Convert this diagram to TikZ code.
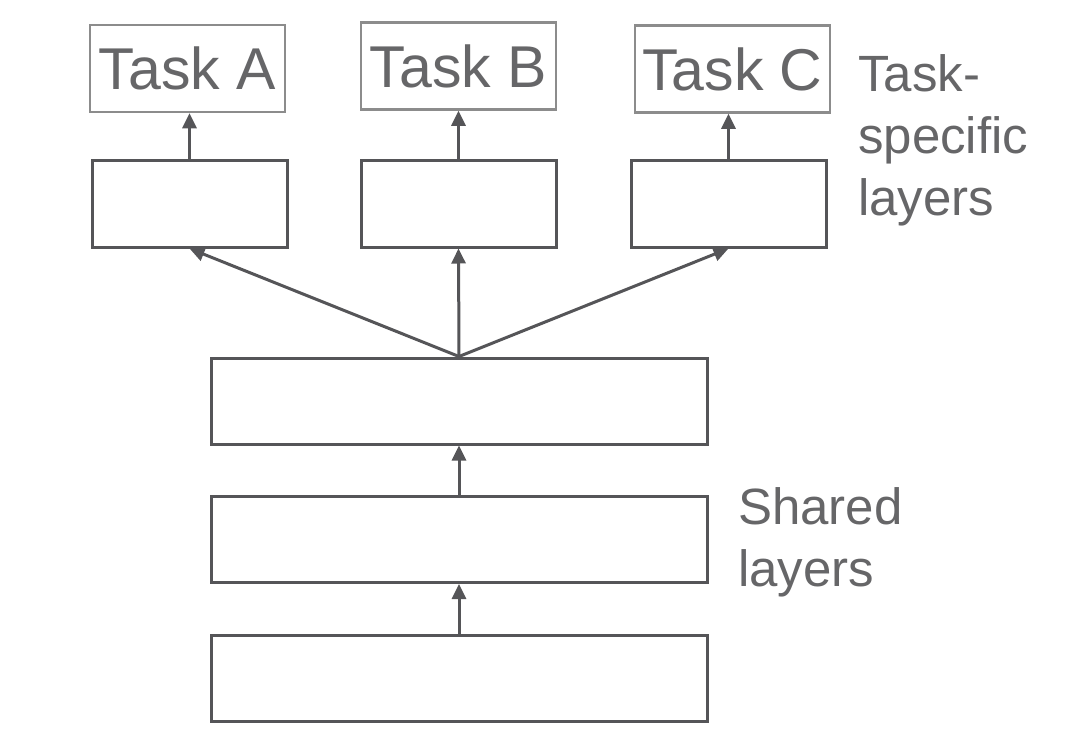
\documentclass[tikz,border=0pt]{standalone}
\usepackage{fontspec}
\setmainfont{Liberation Sans}
\usetikzlibrary{arrows.meta}
\definecolor{edge}{HTML}{555558}
\definecolor{light}{HTML}{8C8C8C}
\definecolor{txt}{HTML}{666668}
\begin{document}
\begin{tikzpicture}[x=1pt,y=-1pt,
  layer/.style={draw=edge,line width=3pt,minimum width=195pt,minimum height=87pt,inner sep=0pt,fill=white},
  shared/.style={layer,minimum width=496pt,minimum height=86pt},
  taskbox/.style={draw=light,line width=2.5pt,minimum width=195pt,minimum height=87pt,inner sep=0pt,text=txt,font=\fontsize{59}{59}\selectfont},
  conn/.style={draw=edge,line width=3pt,-{Triangle[length=15pt,width=14pt]}},
  side/.style={text=txt,align=left,inner sep=0pt,font=\fontsize{51}{62}\selectfont}]
\useasboundingbox (0,0) rectangle (1080,748);
\node[taskbox] (ta) at (187.5,68.5) {Task A};
\node[taskbox] (tb) at (458.5,66) {Task B};
\node[taskbox] (tc) at (732.5,69) {Task C};
\node[layer] (la) at (189.5,203.5) {};
\node[layer] (lb) at (458.5,203.5) {};
\node[layer] (lc) at (728.5,203.5) {};
\node[shared] (s3) at (459,401) {};
\node[shared] (s2) at (459,539.5) {};
\node[shared] (s1) at (459,678) {};
\draw[conn] (la.north) -- (la.north |- ta.south);
\draw[conn] (lb.north) -- (lb.north |- tb.south);
\draw[conn] (lc.north) -- (lc.north |- tc.south);
\draw[conn] (s3.north) -- (la.south);
\draw[conn] (s3.north) -- (lb.south);
\draw[conn] (s3.north) -- (lc.south);
\draw[conn] (s2.north) -- (s3.south);
\draw[conn] (s1.north) -- (s2.south);
\node[side,anchor=north west] (tsl) at (858,54) {Task-\\specific\\layers};
\node[side,anchor=north west] (shl) at (738,487) {Shared\\layers};
\end{tikzpicture}
\end{document}
